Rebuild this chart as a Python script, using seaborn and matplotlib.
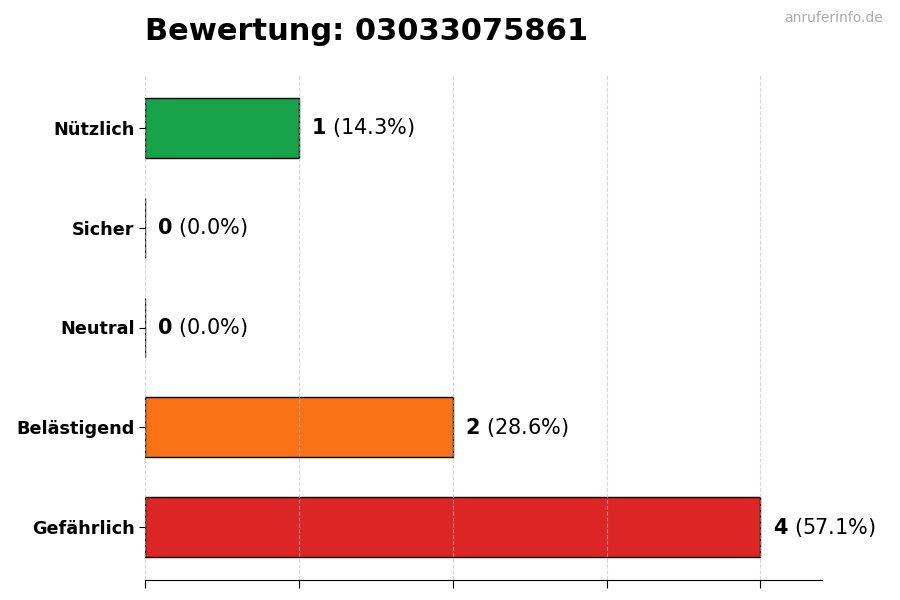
import matplotlib
matplotlib.use('Agg')
import matplotlib.pyplot as plt
import seaborn as sns

categories = ['Nützlich', 'Sicher', 'Neutral', 'Belästigend', 'Gefährlich']
counts = [1, 0, 0, 2, 4]
percents = [14.3, 0.0, 0.0, 28.6, 57.1]
colors = ['#16a34a', '#3b82f6', '#9ca3af', '#f97316', '#dc2626']
title = 'Bewertung: 03033075861'

sns.set_style('white')
plt.rcParams['font.family'] = ['DejaVu Sans']
plt.rcParams['text.color'] = 'black'
plt.rcParams['axes.labelcolor'] = 'black'
plt.rcParams['xtick.color'] = 'black'
plt.rcParams['ytick.color'] = 'black'

fig = plt.figure(figsize=(9, 6), dpi=100)
ax = fig.add_axes([145 / 900, 20 / 600, 677 / 900, 505 / 600])

sns.barplot(x=counts, y=categories, hue=categories, palette=colors, orient='h',
            width=0.6, edgecolor='black', linewidth=1, saturation=1,
            legend=False, ax=ax)

for i, (c, p) in enumerate(zip(counts, percents)):
    ax.text(c + 0.08, i, r'$\mathbf{' + str(c) + r'}$' + f' ({p:.1f}%)',
            va='center', ha='left', fontsize=15, color='black')

ax.set_xlim(0, 4.4)
ax.set_ylim(4.53, -0.53)
ax.set_xticks([0, 1, 2, 3, 4])
ax.set_xticklabels([])
ax.set_xlabel('')
ax.set_ylabel('')
ax.grid(axis='x', linestyle='--', color='#bbbbbb', alpha=0.6, linewidth=0.8)
ax.set_axisbelow(False)
ax.tick_params(axis='x', bottom=True, length=6, width=0.8, color='black')
ax.tick_params(axis='y', left=True, length=4, width=0.8, color='black')
for lab in ax.get_yticklabels():
    lab.set_fontsize(12.7)
    lab.set_fontweight('bold')
    lab.set_color('black')
for s in ['top', 'right', 'left']:
    ax.spines[s].set_visible(False)
ax.spines['bottom'].set_color('black')

fig.text(145 / 900, 1 - 40 / 600, title, fontsize=22, fontweight='bold',
         color='black', ha='left', va='baseline')
fig.text(883 / 900, 1 - 22 / 600, 'anruferinfo.de', fontsize=10,
         color='#aaaaaa', ha='right', va='baseline')

fig.savefig('out.png', dpi=100)
